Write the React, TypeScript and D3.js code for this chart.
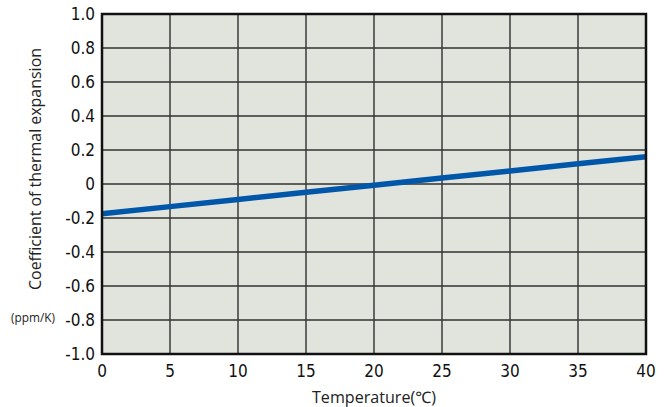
import { useEffect, useRef } from "react";
import * as d3 from "d3";

// temperature (°C) vs coefficient of thermal expansion (ppm/K)
const temps = [0, 5, 10, 15, 20, 25, 30, 35, 40];
const cte = [-0.175, -0.133, -0.091, -0.049, -0.007, 0.035, 0.077, 0.119, 0.16];
const xTicks = [0, 5, 10, 15, 20, 25, 30, 35, 40];
const yTicks = [-1.0, -0.8, -0.6, -0.4, -0.2, 0, 0.2, 0.4, 0.6, 0.8, 1.0];

export default function App() {
  const ref = useRef<SVGSVGElement>(null);

  useEffect(() => {
    const svg = d3.select(ref.current);
    svg.selectAll("*").remove();

    const left = 102, right = 646, top = 14, bottom = 354;
    const font = "'DejaVu Sans Condensed', 'Liberation Sans Narrow', sans-serif";
    const light = "'Open Sans', 'Noto Sans', sans-serif";

    const x = d3.scaleLinear().domain([0, 40]).range([left, right]);
    const y = d3.scaleLinear().domain([-1, 1]).range([bottom, top]);

    svg.append("rect")
      .attr("x", left).attr("y", top)
      .attr("width", right - left).attr("height", bottom - top)
      .attr("fill", "#e0e4dc");

    // grid
    svg.append("g").selectAll("line").data(xTicks.slice(1, -1)).enter().append("line")
      .attr("x1", (d) => x(d)).attr("x2", (d) => x(d))
      .attr("y1", top).attr("y2", bottom)
      .attr("stroke", "#222").attr("stroke-width", 1.3);
    svg.append("g").selectAll("line").data(yTicks.slice(1, -1)).enter().append("line")
      .attr("x1", left).attr("x2", right)
      .attr("y1", (d) => y(d)).attr("y2", (d) => y(d))
      .attr("stroke", "#333").attr("stroke-width", 1.3);

    // data line
    svg.append("path")
      .datum(temps.map((t, i) => [t, cte[i]] as [number, number]))
      .attr("fill", "none")
      .attr("stroke", "#0057aa")
      .attr("stroke-width", 5.5)
      .attr("d", d3.line<[number, number]>().x((d) => x(d[0])).y((d) => y(d[1])));

    // frame
    svg.append("rect")
      .attr("x", left).attr("y", top)
      .attr("width", right - left).attr("height", bottom - top)
      .attr("fill", "none").attr("stroke", "#111").attr("stroke-width", 2.5);

    // tick labels
    svg.append("g").selectAll("text").data(yTicks).enter().append("text")
      .attr("x", left - 7).attr("y", (d) => y(d) + 6)
      .attr("text-anchor", "end")
      .attr("font-family", font).attr("font-size", 17).attr("fill", "#111")
      .text((d) => (d === 0 ? "0" : d.toFixed(1)));
    svg.append("g").selectAll("text").data(xTicks).enter().append("text")
      .attr("x", (d) => x(d)).attr("y", bottom + 23)
      .attr("text-anchor", "middle")
      .attr("font-family", font).attr("font-size", 17).attr("fill", "#111")
      .text((d) => String(d));

    // axis titles
    svg.append("text")
      .attr("x", x(20)).attr("y", 403)
      .attr("text-anchor", "middle")
      .attr("font-family", light)
      .attr("font-size", 16).attr("fill", "#222")
      .attr("textLength", 124).attr("lengthAdjust", "spacingAndGlyphs")
      .text("Temperature(℃)");
    svg.append("text")
      .attr("transform", "translate(41,169) rotate(-90)")
      .attr("text-anchor", "middle")
      .attr("font-family", light)
      .attr("font-size", 16).attr("fill", "#222")
      .attr("textLength", 242).attr("lengthAdjust", "spacingAndGlyphs")
      .text("Coefficient of thermal expansion");
    svg.append("text")
      .attr("x", 33).attr("y", 322)
      .attr("text-anchor", "middle")
      .attr("font-family", light)
      .attr("font-size", 12).attr("fill", "#222")
      .attr("textLength", 44).attr("lengthAdjust", "spacingAndGlyphs")
      .text("(ppm/K)");
  }, []);

  return (
    <svg ref={ref} width={669} height={407}
      style={{ position: "absolute", left: 0, top: 0, background: "#fff" }} />
  );
}
